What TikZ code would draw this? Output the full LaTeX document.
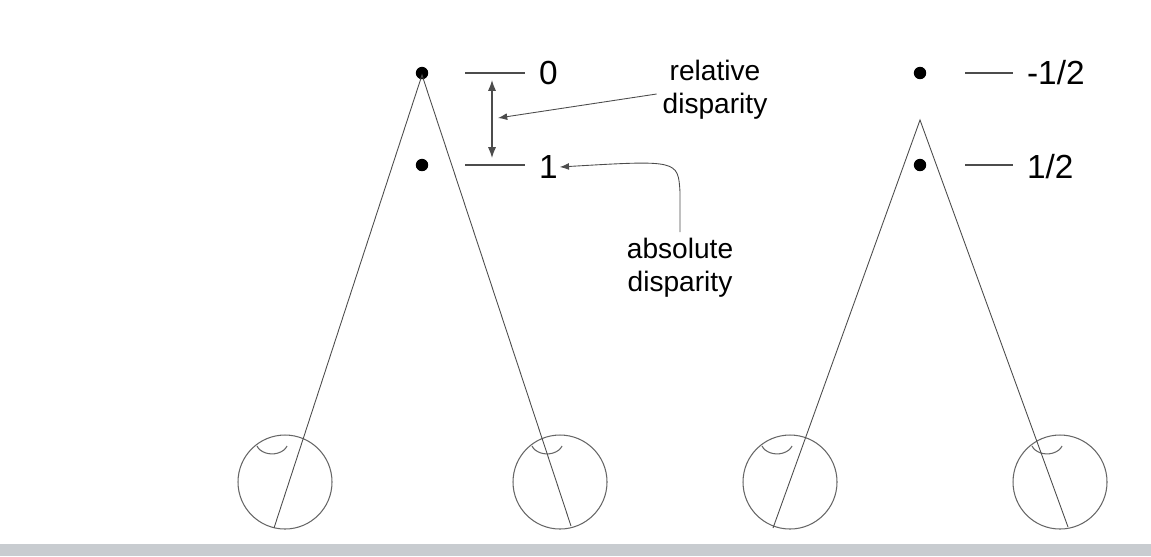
\documentclass[tikz,border=0pt]{standalone}
\usepackage{fontspec}
\setmainfont{Liberation Sans}
\usetikzlibrary{arrows.meta}
\begin{document}
\begin{tikzpicture}[
      x=0.02cm, y=-0.02cm,
      >=Latex,
      ray/.style={draw=black!70, line width=0.5pt},
      eye/.style={draw=black!60, line width=0.6pt},
      tick/.style={draw=black!70, line width=0.7pt},
      lbl/.style={font=\fontsize{19}{21}\selectfont, inner sep=1pt, anchor=west},
      note/.style={font=\fontsize{16}{19}\selectfont, align=center, inner sep=1pt}
    ]
      \useasboundingbox (0,0) rectangle (1151,556);
      \fill[fill={rgb,255:red,200;green,204;blue,208}] (0,544) rectangle (1151,556);
      % eyes
      \foreach \ex/\nm in {285/a, 560/b, 790/c, 1060/d} {
        \draw[eye] (\ex,482) circle (47);
        \draw[eye] (\ex-28,446) arc (160:20:16 and 12);
        \coordinate (eye-\nm) at (\ex,482);
      }
      % points
      \node[circle, fill=black, inner sep=2.5pt] (far1) at (422,73) {};
      \node[circle, fill=black, inner sep=2.5pt] (near1) at (422,165) {};
      \node[circle, fill=black, inner sep=2.5pt] (far2) at (920,73) {};
      \node[circle, fill=black, inner sep=2.5pt] (near2) at (920,165) {};
      \coordinate (apex1) at (422,75);
      \coordinate (apex2) at (920,120);
      \coordinate (foot-a) at (274,528);
      \coordinate (foot-b) at (571,526);
      \coordinate (foot-c) at (773,528);
      \coordinate (foot-d) at (1068,527);
      \draw[ray] (foot-a) -- (apex1) -- (foot-b);
      \draw[ray] (foot-c) -- (apex2) -- (foot-d);
      % depth ticks
      \coordinate (t0a) at (465,73); \coordinate (t0b) at (525,73);
      \coordinate (t1a) at (465,165); \coordinate (t1b) at (525,165);
      \coordinate (t2a) at (965,73); \coordinate (t2b) at (1013,73);
      \coordinate (t3a) at (965,165); \coordinate (t3b) at (1013,165);
      \draw[tick] (t0a) -- (t0b);
      \draw[tick] (t1a) -- (t1b);
      \draw[tick] (t2a) -- (t2b);
      \draw[tick] (t3a) -- (t3b);
      \node[lbl] (v0) at (537,73) {0};
      \node[lbl] (v1) at (537,167) {1};
      \node[lbl] (v2) at (1025,73) {-1/2};
      \node[lbl] (v3) at (1025,167) {1/2};
      % disparities
      \coordinate (rt) at (492,80);
      \coordinate (rb) at (492,158);
      \coordinate (rm) at (498,118);
      \draw[tick, <->] (rt) -- (rb);
      \node[note] (rel) at (715,90) {relative\\disparity};
      \node[note] (abs) at (680,268) {absolute\\disparity};
      \draw[ray, ->] (rel.west) ++(-4,4) -- (rm);
      \draw[ray, ->] (abs.north) ++(0,-4) -- ++(0,-40) .. controls (678,160) .. (v1.east);
    \end{tikzpicture}
\end{document}
